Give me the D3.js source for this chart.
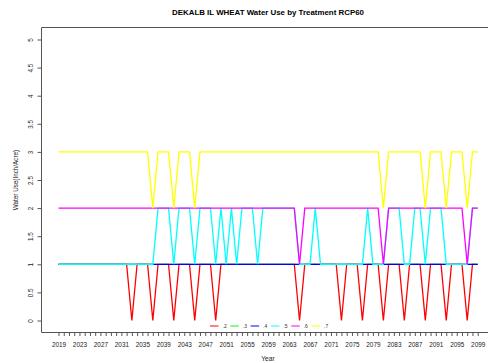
<!DOCTYPE html>
<html>
<head>
<meta charset="utf-8">
<script src="https://cdn.jsdelivr.net/npm/d3@7"></script>
<style>
  html, body { margin: 0; padding: 0; background: #fff; }
  svg { display: block; font-family: "Liberation Sans", Arial, sans-serif; }
</style>
</head>
<body>
<svg id="chart" width="488" height="363"></svg>
<script>
// ---------------- data ----------------
const title = "DEKALB IL WHEAT Water Use by Treatment RCP60";
const xTitle = "Year";
const yTitle = "Water Use(Inch/Acre)";

const years = [
  2019,2020,2021,2022,2023,2024,2025,2026,2027,2028,
  2029,2030,2031,2032,2033,2034,2035,2036,2037,2038,
  2039,2040,2041,2042,2043,2044,2045,2046,2047,2048,
  2049,2050,2051,2052,2053,2054,2055,2056,2057,2058,
  2059,2060,2061,2062,2063,2064,2065,2066,2067,2068,
  2069,2070,2071,2072,2073,2074,2075,2076,2077,2078,
  2079,2080,2081,2082,2083,2084,2085,2086,2087,2088,
  2089,2090,2091,2092,2093,2094,2095,2096,2097,2098,
  2099
];

const xTickLabels = [2019,2023,2027,2031,2035,2039,2043,2047,2051,2055,2059,2063,2067,2071,2075,2079,2083,2087,2091,2095,2099];
const yTickValues = [0,0.5,1,1.5,2,2.5,3,3.5,4,4.5,5];

const seriesNames = [".2", ".3", ".4", ".5", ".6", ".7"];
const seriesColors = ["#ff0000", "#00ff00", "#0000ff", "#00ffff", "#ff00ff", "#ffff00"];

const s2 = [
  1,1,1,1,1,1,1,1,1,1,
  1,1,1,1,0,1,1,1,0,1,
  1,1,0,1,1,1,0,1,1,1,
  0,1,1,1,1,1,1,1,1,1,
  1,1,1,1,1,1,0,1,1,1,
  1,1,1,1,0,1,1,1,0,1,
  1,1,0,1,1,1,0,1,1,1,
  0,1,1,1,0,1,1,1,0,1,
  1
];
const s3 = [
  1,1,1,1,1,1,1,1,1,1,
  1,1,1,1,1,1,1,1,1,1,
  1,1,1,1,1,1,1,1,1,1,
  1,1,1,1,1,1,1,1,1,1,
  1,1,1,1,1,1,1,1,1,1,
  1,1,1,1,1,1,1,1,1,1,
  1,1,1,1,1,1,1,1,1,1,
  1,1,1,1,1,1,1,1,1,1,
  1
];
const s4 = [
  1,1,1,1,1,1,1,1,1,1,
  1,1,1,1,1,1,1,1,1,1,
  1,1,1,1,1,1,1,1,1,1,
  1,1,1,1,1,1,1,1,1,1,
  1,1,1,1,1,1,1,1,1,1,
  1,1,1,1,1,1,1,1,1,1,
  1,1,1,1,1,1,1,1,1,1,
  1,1,1,1,1,1,1,1,1,1,
  1
];
const s5 = [
  1,1,1,1,1,1,1,1,1,1,
  1,1,1,1,1,1,1,1,1,2,
  2,2,1,2,2,2,1,2,2,2,
  1,2,1,2,1,2,2,2,1,2,
  2,2,2,2,2,2,1,1,1,2,
  1,1,1,1,1,1,1,1,1,2,
  1,1,1,2,2,2,1,1,2,2,
  1,2,2,2,1,1,1,1,1,2,
  2
];
const s6 = [
  2,2,2,2,2,2,2,2,2,2,
  2,2,2,2,2,2,2,2,2,2,
  2,2,2,2,2,2,2,2,2,2,
  2,2,2,2,2,2,2,2,2,2,
  2,2,2,2,2,2,1,2,2,2,
  2,2,2,2,2,2,2,2,2,2,
  2,2,1,2,2,2,2,2,2,2,
  2,2,2,2,2,2,2,2,1,2,
  2
];
const s7 = [
  3,3,3,3,3,3,3,3,3,3,
  3,3,3,3,3,3,3,3,2,3,
  3,3,2,3,3,3,2,3,3,3,
  3,3,3,3,3,3,3,3,3,3,
  3,3,3,3,3,3,3,3,3,3,
  3,3,3,3,3,3,3,3,3,3,
  3,3,2,3,3,3,3,3,3,3,
  2,3,3,3,2,3,3,3,2,3,
  3
];
const seriesValues = [s2, s3, s4, s5, s6, s7];

// ---------------- layout ----------------
const svg = d3.select("#chart");
const box = { left: 41.5, top: 27.5, right: 495, bottom: 332.5 };

const x = d3.scaleLinear().domain([2019, 2099]).range([58.5, 477.7]);
const y = d3.scaleLinear().domain([0, 5]).range([320.5, 39.5]);

// title
svg.append("text")
  .attr("x", 268).attr("y", 15)
  .attr("text-anchor", "middle")
  .attr("font-size", 7.9).attr("font-weight", "bold")
  .attr("fill", "#000")
  .text(title);

// lines
const line = d3.line().x(d => x(d[0])).y(d => y(d[1]));
seriesValues.forEach((vals, i) => {
  svg.append("path")
    .datum(years.map((yr, j) => [yr, vals[j]]))
    .attr("fill", "none")
    .attr("stroke", seriesColors[i])
    .attr("stroke-width", 1.3)
    .attr("stroke-linejoin", "miter")
    .attr("d", line);
});

// box
svg.append("path")
  .attr("d", `M${box.right},${box.top}H${box.left}V${box.bottom}H${box.right}`)
  .attr("fill", "none").attr("stroke", "#555").attr("stroke-width", 1);

// x axis
const labelSet = new Set(xTickLabels);
const xAxis = d3.axisBottom(x)
  .tickValues(years)
  .tickSize(3.5)
  .tickPadding(6)
  .tickFormat(d => labelSet.has(d) ? String(d) : "");
const gx = svg.append("g").attr("transform", `translate(0,${box.bottom})`).call(xAxis);
gx.select(".domain").remove();
gx.selectAll(".tick line").attr("stroke", "#555");
gx.selectAll(".tick text")
  .attr("font-size", 6.4).attr("font-family", "Liberation Sans, Arial, sans-serif")
  .attr("fill", "#222").attr("dy", "0.71em");

// y axis
const yAxis = d3.axisLeft(y)
  .tickValues(yTickValues)
  .tickSize(4)
  .tickFormat(d => String(d));
const gy = svg.append("g").attr("transform", `translate(${box.left},0)`).call(yAxis);
gy.select(".domain").remove();
gy.selectAll(".tick line").attr("stroke", "#555");
gy.selectAll(".tick text")
  .attr("font-size", 6.3).attr("font-family", "Liberation Sans, Arial, sans-serif")
  .attr("fill", "#222")
  .attr("x", null).attr("dy", null)
  .attr("text-anchor", "middle")
  .attr("transform", "translate(-9,0) rotate(-90)");

// axis titles
svg.append("text")
  .attr("x", 268).attr("y", 361)
  .attr("text-anchor", "middle")
  .attr("font-size", 6.6).attr("fill", "#222")
  .text(xTitle);
svg.append("text")
  .attr("transform", `translate(18,${(box.top + box.bottom) / 2}) rotate(-90)`)
  .attr("text-anchor", "middle")
  .attr("font-size", 6.3).attr("fill", "#222")
  .text(yTitle);

// legend
const legX0 = 210, legStep = 20.3, legY = 326;
const lg = svg.append("g");
seriesNames.forEach((name, i) => {
  const gx0 = legX0 + i * legStep;
  lg.append("line")
    .attr("x1", gx0).attr("x2", gx0 + 8.5)
    .attr("y1", legY).attr("y2", legY)
    .attr("stroke", seriesColors[i]).attr("stroke-width", 1);
  lg.append("text")
    .attr("x", gx0 + 12.5).attr("y", legY + 1.8)
    .attr("font-size", 5).attr("fill", "#333")
    .text(name);
});
</script>
</body>
</html>
